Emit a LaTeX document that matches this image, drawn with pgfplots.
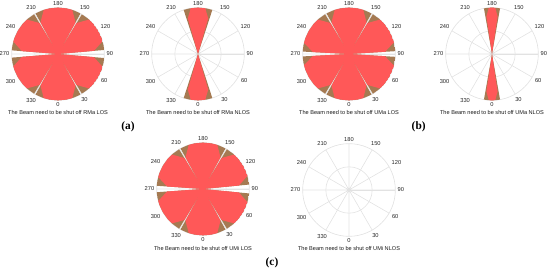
\documentclass[border=0pt]{standalone}
\usepackage{pgfplots}
\pgfplotsset{compat=1.18}
\usepgfplotslibrary{polar}
\usepackage{fontspec}
\setmainfont{Liberation Sans}
\newfontfamily\capfont{Liberation Serif}
\definecolor{fillred}{RGB}{255,88,88}
\definecolor{fillbrown}{RGB}{165,122,82}
\definecolor{gridc}{RGB}{226,226,226}
\pgfplotsset{
  mypolar/.style={
    scale only axis, width=69.5pt, height=69.5pt,
    anchor=center,
    xmin=0, xmax=360,
    xtick={0,30,...,330},
    xticklabels={90,120,150,180,210,240,270,300,330,0,30,60},
    ymin=0, ymax=1, ytick={0.5}, yticklabels={},
    xmajorgrids, ymajorgrids,
    major grid style={gridc, line width=0.45pt},
    axis line style={gridc, line width=0.5pt},
    major tick length=0pt,
    ticklabel style={font=\fontsize{4.3}{5}\selectfont, text=black!85},
    xticklabel style={inner sep=1.6pt},
    empty line=jump,
  },
  br/.style={fill=fillbrown, draw=none},
  rd/.style={fill=fillred, draw=none},
}
\begin{document}
\begin{tikzpicture}
\path[use as bounding box] (0,0) rectangle (412.5pt,205.5pt);

% ---------- (a) RMa LOS ----------
\begin{polaraxis}[mypolar, at={(43.5pt,165pt)}]
\addplot[br] table {
0 0
-59 1
-50 1
-40 1
-30 1
-20 1
-10 1
-5 1

0 0
5 1
10 1
20 1
30 1
40 1
50 1
59 1

0 0
61 1
70 1
80 1
90 1
100 1
110 1
119 1

0 0
121 1
130 1
140 1
150 1
160 1
170 1
175.5 1

0 0
184.5 1
190 1
200 1
210 1
220 1
230 1
239 1

0 0
241 1
250 1
260 1
270 1
280 1
290 1
299 1
};
\addplot[rd] table {
0 0
-59 0.78
-48 1
-40 1
-30 1
-20 1
-16 1
-5 0.78

0 0
5 0.78
16 1
20 1
30 1
40 1
48 1
59 0.78

0 0
61 0.78
72 1
80 1
90 1
100 1
108 1
119 0.78

0 0
121 0.78
132 1
140 1
150 1
160 1
164.5 1
175.5 0.78

0 0
184.5 0.78
195.5 1
200 1
210 1
220 1
228 1
239 0.78

0 0
241 0.78
252 1
260 1
270 1
280 1
288 1
299 0.78
};
\end{polaraxis}

% ---------- (a) RMa NLOS ----------
\begin{polaraxis}[mypolar, at={(148.5pt,165pt)}]
\addplot[br] table {
0 0
72 1
80 1
90 1
100 1
108 1

0 0
252 1
260 1
270 1
280 1
288 1
};
\addplot[rd] table {
0 0
74 0.8
81 1
90 1
99 1
106 0.8

0 0
254 0.8
261 1
270 1
279 1
286 0.8
};
\end{polaraxis}

% ---------- (b) UMa LOS ----------
\begin{polaraxis}[mypolar, at={(261.75pt,165pt)}]
\addplot[br] table {
0 0
-59 1
-50 1
-40 1
-30 1
-20 1
-10 1
-3.5 1

0 0
3.5 1
10 1
20 1
30 1
40 1
50 1
59 1

0 0
61 1
70 1
80 1
90 1
100 1
110 1
119 1

0 0
121 1
130 1
140 1
150 1
160 1
170 1
177 1

0 0
183 1
190 1
200 1
210 1
220 1
230 1
239 1

0 0
241 1
250 1
260 1
270 1
280 1
290 1
299 1
};
\addplot[rd] table {
0 0
-59 0.78
-48 1
-40 1
-30 1
-20 1
-14.5 1
-3.5 0.78

0 0
3.5 0.78
14.5 1
20 1
30 1
40 1
48 1
59 0.78

0 0
61 0.78
72 1
80 1
90 1
100 1
108 1
119 0.78

0 0
121 0.78
132 1
140 1
150 1
160 1
166 1
177 0.78

0 0
183 0.78
194 1
200 1
210 1
220 1
228 1
239 0.78

0 0
241 0.78
252 1
260 1
270 1
280 1
288 1
299 0.78
};
\end{polaraxis}

% ---------- (b) UMa NLOS ----------
\begin{polaraxis}[mypolar, at={(369pt,165pt)}]
\addplot[br] table {
0 0
80 1
85 1
90 1
95 1
100 1

0 0
260 1
265 1
270 1
275 1
280 1
};
\addplot[rd] table {
0 0
81.5 0.82
86 1
90 1
94 1
98.5 0.82

0 0
261.5 0.82
266 1
270 1
274 1
278.5 0.82
};
\end{polaraxis}

% ---------- (c) UMi LOS ----------
\begin{polaraxis}[mypolar, at={(152.25pt,63.75pt)}]
\addplot[br] table {
0 0
-59 1
-50 1
-40 1
-30 1
-20 1
-10 1
-5.5 1

0 0
5.5 1
10 1
20 1
30 1
40 1
50 1
59 1

0 0
61 1
70 1
80 1
90 1
100 1
110 1
119 1

0 0
121 1
130 1
140 1
150 1
160 1
170 1
176 1

0 0
184 1
190 1
200 1
210 1
220 1
230 1
239 1

0 0
241 1
250 1
260 1
270 1
280 1
290 1
299 1
};
\addplot[rd] table {
0 0
-59 0.78
-48 1
-40 1
-30 1
-20 1
-16.5 1
-5.5 0.78

0 0
5.5 0.78
16.5 1
20 1
30 1
40 1
48 1
59 0.78

0 0
61 0.78
72 1
80 1
90 1
100 1
108 1
119 0.78

0 0
121 0.78
132 1
140 1
150 1
160 1
165 1
176 0.78

0 0
184 0.78
195 1
200 1
210 1
220 1
228 1
239 0.78

0 0
241 0.78
252 1
260 1
270 1
280 1
288 1
299 0.78
};
\end{polaraxis}

% ---------- (c) UMi NLOS ----------
\begin{polaraxis}[mypolar, at={(261.75pt,63pt)}]
\end{polaraxis}

\begin{scope}[every node/.style={font=\fontsize{4.2}{5}\selectfont, text=black!90, inner sep=0pt}]
\node at (43.5pt,120.75pt) {The Beam need to be shut off RMa LOS};
\node at (148.5pt,120.75pt) {The Beam need to be shut off RMa NLOS};
\node at (261.75pt,120.75pt) {The Beam need to be shut off UMa LOS};
\node at (369pt,120.75pt) {The Beam need to be shut off UMa NLOS};
\node at (152.25pt,18.75pt) {The Beam need to be shut off UMi LOS};
\node at (261.75pt,18.75pt) {The Beam need to be shut off UMi NLOS};
\end{scope}
\begin{scope}[every node/.style={font=\capfont\bfseries\fontsize{8.5}{10}\selectfont, inner sep=0pt}]
\node at (96pt,110.25pt) {(a)};
\node at (314pt,110.25pt) {(b)};
\node at (204pt,8.25pt) {(c)};
\end{scope}
\end{tikzpicture}
\end{document}
